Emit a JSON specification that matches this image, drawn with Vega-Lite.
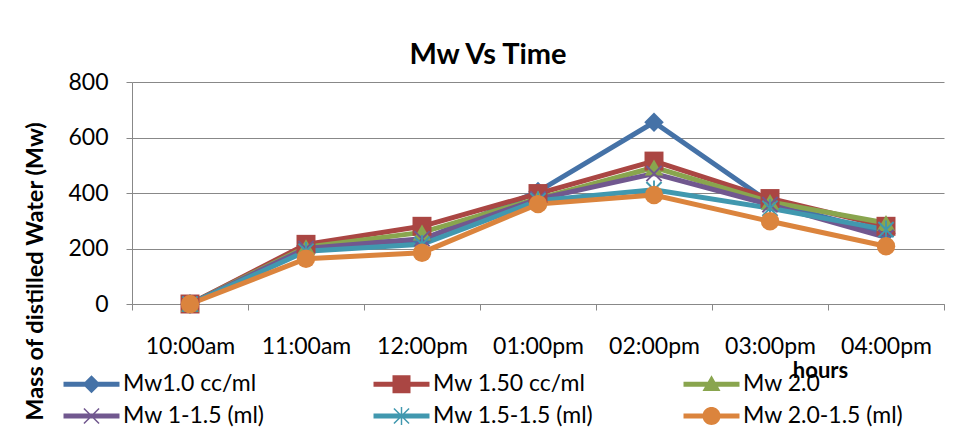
{
  "$schema": "https://vega.github.io/schema/vega-lite/v6.json",
  "width": 812,
  "height": 222,
  "autosize": {"type": "none"},
  "padding": {"left": 132, "top": 82, "right": 15, "bottom": 134},
  "background": "white",
  "config": {"view": {"stroke": null}, "font": "Lato"},
  "title": {"text": "Mw Vs Time", "font": "Lato", "fontSize": 29, "fontWeight": "bold", "color": "black", "anchor": "middle", "dx": -50, "dy": 41, "offset": 19, "baseline": "alphabetic"},
  "data": {"values": [
    {"time": "10:00am", "series": "Mw1.0 cc/ml", "value": 0},
    {"time": "11:00am", "series": "Mw1.0 cc/ml", "value": 210},
    {"time": "12:00pm", "series": "Mw1.0 cc/ml", "value": 230},
    {"time": "01:00pm", "series": "Mw1.0 cc/ml", "value": 405},
    {"time": "02:00pm", "series": "Mw1.0 cc/ml", "value": 655},
    {"time": "03:00pm", "series": "Mw1.0 cc/ml", "value": 365},
    {"time": "04:00pm", "series": "Mw1.0 cc/ml", "value": 255},
    {"time": "10:00am", "series": "Mw 1.50 cc/ml", "value": 0},
    {"time": "11:00am", "series": "Mw 1.50 cc/ml", "value": 215},
    {"time": "12:00pm", "series": "Mw 1.50 cc/ml", "value": 280},
    {"time": "01:00pm", "series": "Mw 1.50 cc/ml", "value": 398},
    {"time": "02:00pm", "series": "Mw 1.50 cc/ml", "value": 515},
    {"time": "03:00pm", "series": "Mw 1.50 cc/ml", "value": 380},
    {"time": "04:00pm", "series": "Mw 1.50 cc/ml", "value": 280},
    {"time": "10:00am", "series": "Mw 2.0", "value": 0},
    {"time": "11:00am", "series": "Mw 2.0", "value": 205},
    {"time": "12:00pm", "series": "Mw 2.0", "value": 258},
    {"time": "01:00pm", "series": "Mw 2.0", "value": 380},
    {"time": "02:00pm", "series": "Mw 2.0", "value": 492},
    {"time": "03:00pm", "series": "Mw 2.0", "value": 368},
    {"time": "04:00pm", "series": "Mw 2.0", "value": 292},
    {"time": "10:00am", "series": "Mw 1-1.5 (ml)", "value": 0},
    {"time": "11:00am", "series": "Mw 1-1.5 (ml)", "value": 200},
    {"time": "12:00pm", "series": "Mw 1-1.5 (ml)", "value": 235},
    {"time": "01:00pm", "series": "Mw 1-1.5 (ml)", "value": 378},
    {"time": "02:00pm", "series": "Mw 1-1.5 (ml)", "value": 470},
    {"time": "03:00pm", "series": "Mw 1-1.5 (ml)", "value": 358},
    {"time": "04:00pm", "series": "Mw 1-1.5 (ml)", "value": 240},
    {"time": "10:00am", "series": "Mw 1.5-1.5  (ml)", "value": 0},
    {"time": "11:00am", "series": "Mw 1.5-1.5  (ml)", "value": 190},
    {"time": "12:00pm", "series": "Mw 1.5-1.5  (ml)", "value": 215},
    {"time": "01:00pm", "series": "Mw 1.5-1.5  (ml)", "value": 372},
    {"time": "02:00pm", "series": "Mw 1.5-1.5  (ml)", "value": 412},
    {"time": "03:00pm", "series": "Mw 1.5-1.5  (ml)", "value": 345},
    {"time": "04:00pm", "series": "Mw 1.5-1.5  (ml)", "value": 268},
    {"time": "10:00am", "series": "Mw 2.0-1.5 (ml)", "value": 0},
    {"time": "11:00am", "series": "Mw 2.0-1.5 (ml)", "value": 163},
    {"time": "12:00pm", "series": "Mw 2.0-1.5 (ml)", "value": 185},
    {"time": "01:00pm", "series": "Mw 2.0-1.5 (ml)", "value": 360},
    {"time": "02:00pm", "series": "Mw 2.0-1.5 (ml)", "value": 393},
    {"time": "03:00pm", "series": "Mw 2.0-1.5 (ml)", "value": 298},
    {"time": "04:00pm", "series": "Mw 2.0-1.5 (ml)", "value": 208}
  ]},
  "encoding": {
    "x": {
      "field": "time", "type": "ordinal",
      "sort": ["10:00am", "11:00am", "12:00pm", "01:00pm", "02:00pm", "03:00pm", "04:00pm"],
      "bandPosition": 0.5,
      "scale": {"type": "band", "paddingInner": 0, "paddingOuter": 0},
      "axis": {
        "title": "hours", "titleFont": "Lato", "titleFontSize": 22, "titleFontWeight": "bold", "titleColor": "black",
        "titleX": 688, "titleY": 66, "titleAlign": "center", "titleBaseline": "middle", "titleAngle": 0,
        "labelAngle": 0, "labelFont": "Lato", "labelFontSize": 23, "labelColor": "black", "labelPadding": 25,
        "tickBand": "extent", "tickSize": 6, "tickColor": "#888888", "domainColor": "#888888", "grid": false
      }
    },
    "y": {
      "field": "value", "type": "quantitative",
      "scale": {"domain": [0, 800], "nice": false},
      "axis": {
        "title": "Mass of distilled Water (Mw)", "values": [0, 200, 400, 600, 800],
        "grid": true, "gridColor": "#888888", "domainColor": "#888888", "tickColor": "#888888", "tickSize": 6,
        "labelFont": "Lato", "labelFontSize": 23, "labelColor": "black", "labelPadding": 18,
        "titleFont": "Lato", "titleFontSize": 23.5, "titleFontWeight": "bold", "titleColor": "black",
        "titleX": -97, "titleY": 189, "titleAlign": "center", "titleBaseline": "middle", "titleAngle": 270
      }
    }
  },
  "layer": [
    {
      "mark": {"type": "line", "strokeWidth": 5},
      "encoding": {
        "color": {
          "field": "series", "type": "nominal",
          "scale": {
            "domain": ["Mw1.0 cc/ml", "Mw 1.50 cc/ml", "Mw 2.0", "Mw 1-1.5 (ml)", "Mw 1.5-1.5  (ml)", "Mw 2.0-1.5 (ml)"],
            "range": ["#4572A7", "#AA4643", "#89A54E", "#71588F", "#4198AF", "#DB843D"]
          },
          "legend": {
            "title": null, "orient": "none", "legendX": -52, "legendY": 290.5,
            "direction": "horizontal", "columns": 3, "gridAlign": "all", "columnPadding": 83, "rowPadding": 8,
            "symbolSize": 324, "labelFont": "Lato", "labelFontSize": 23, "labelColor": "black", "labelOffset": 20, "labelLimit": 400,
            "symbolType": {"expr": "['M-3.11,-0.28H-0.72L0,-1L0.72,-0.28H3.11V0.28H0.72L0,1L-0.72,0.28H-3.11Z','M-3.11,-0.28H-1V-1H1V-0.28H3.11V0.28H1V1H-1V0.28H-3.11Z','M-3.11,-0.28H-0.411L0,-1L0.411,-0.28H3.11V0.28H0.731L1,0.75H-1L-0.731,0.28H-3.11Z','M-3.11,-0.28H3.11V0.28H-3.11ZM-0.9,-0.78L-0.78,-0.9L0.9,0.78L0.78,0.9ZM0.78,-0.9L0.9,-0.78L-0.78,0.9L-0.9,0.78Z','M-3.11,-0.28H3.11V0.28H-3.11ZM-0.9,-0.78L-0.78,-0.9L0.9,0.78L0.78,0.9ZM0.78,-0.9L0.9,-0.78L-0.78,0.9L-0.9,0.78ZM-0.08,-1H0.08V1H-0.08Z','M-3.11,-0.28H-0.96A1,1,0,0,1,0.96,-0.28H3.11V0.28H0.96A1,1,0,0,1,-0.96,0.28H-3.11Z'][indexof(['Mw1.0 cc/ml','Mw 1.50 cc/ml','Mw 2.0','Mw 1-1.5 (ml)','Mw 1.5-1.5  (ml)','Mw 2.0-1.5 (ml)'], datum.value)]"},
            "symbolFillColor": {"expr": "scale('color', datum.value)"},
            "symbolStrokeColor": "transparent",
            "symbolStrokeWidth": 0,
            "symbolOpacity": 1
          }
        }
      }
    },
    {
      "transform": [{"filter": {"field": "series", "equal": "Mw1.0 cc/ml"}}],
      "mark": {"type": "point", "filled": true, "opacity": 1, "size": 380, "shape": "diamond", "color": "#4572A7"}
    },
    {
      "transform": [{"filter": {"field": "series", "equal": "Mw 1.50 cc/ml"}}],
      "mark": {"type": "point", "filled": true, "opacity": 1, "size": 360, "shape": "square", "color": "#AA4643"}
    },
    {
      "transform": [{"filter": {"field": "series", "equal": "Mw 2.0"}}],
      "mark": {"type": "point", "filled": true, "opacity": 1, "size": 340, "shape": "triangle-up", "color": "#89A54E"}
    },
    {
      "transform": [{"filter": {"field": "series", "equal": "Mw 1-1.5 (ml)"}}],
      "mark": {"type": "point", "filled": true, "opacity": 1, "size": 340, "shape": "M-0.9,-0.75L-0.75,-0.9L0.9,0.75L0.75,0.9ZM0.75,-0.9L0.9,-0.75L-0.75,0.9L-0.9,0.75Z", "color": "#71588F"}
    },
    {
      "transform": [{"filter": {"field": "series", "equal": "Mw 1.5-1.5  (ml)"}}],
      "mark": {"type": "point", "filled": true, "opacity": 1, "size": 340, "shape": "M-0.9,-0.75L-0.75,-0.9L0.9,0.75L0.75,0.9ZM0.75,-0.9L0.9,-0.75L-0.75,0.9L-0.9,0.75ZM-0.1,-1H0.1V1H-0.1Z", "color": "#4198AF"}
    },
    {
      "transform": [{"filter": {"field": "series", "equal": "Mw 2.0-1.5 (ml)"}}],
      "mark": {"type": "point", "filled": true, "opacity": 1, "size": 340, "shape": "circle", "color": "#DB843D"}
    }
  ]
}
